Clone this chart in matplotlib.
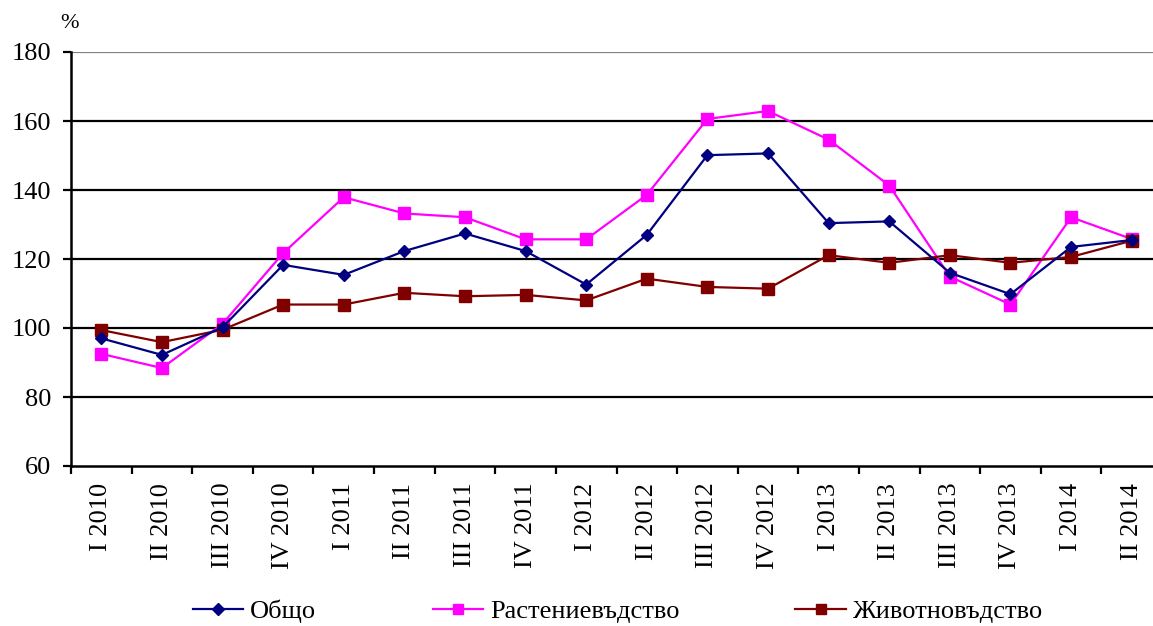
import matplotlib
matplotlib.use("Agg")
import matplotlib.pyplot as plt
import numpy as np

categories = ["I 2010", "II 2010", "III 2010", "IV 2010",
              "I 2011", "II 2011", "III 2011", "IV 2011",
              "I 2012", "II 2012", "III 2012", "IV 2012",
              "I 2013", "II 2013", "III 2013", "IV 2013",
              "I 2014", "II 2014"]
obshto = [97.0, 92.2, 100.2, 118.3, 115.4, 122.3, 127.4, 122.3,
          112.6, 127.0, 150.1, 150.6, 130.4, 130.9, 116.0, 109.8,
          123.5, 125.5]
rasteniev = [92.5, 88.4, 101.2, 121.7, 137.9, 133.2, 132.1, 125.7,
             125.7, 138.6, 160.6, 162.9, 154.6, 141.3, 114.9, 106.8,
             132.1, 125.8]
zhivotnov = [99.4, 95.9, 99.5, 106.8, 106.8, 110.2, 109.2, 109.6,
             108.0, 114.3, 111.9, 111.4, 121.1, 118.9, 121.1, 118.9,
             120.6, 125.3]
series_names = ["Общо", "Растениевъдство", "Животновъдство"]
y_ticks = [60, 80, 100, 120, 140, 160, 180]

plt.rcParams['font.family'] = ['Liberation Serif', 'DejaVu Serif']
FS = 19

fig = plt.figure(figsize=(11.53, 6.26), dpi=100)
W, H = 1153, 626
left, right, top, bottom = 71, 1162, 52, 466
ax = fig.add_axes([left / W, (H - bottom) / H, (right - left) / W, (bottom - top) / H])

x = np.arange(len(categories))
ax.plot(x, obshto, color="#000080", lw=1.6, marker="D", ms=6.5,
        mec="#000080", mfc="#000080", label=series_names[0], zorder=4)
ax.plot(x, rasteniev, color="#FF00FF", lw=1.6, marker="s", ms=8.5,
        mec="#FF00FF", mfc="#FF00FF", label=series_names[1], zorder=3)
ax.plot(x, zhivotnov, color="#800000", lw=1.6, marker="s", ms=8.5,
        mec="#800000", mfc="#800000", label=series_names[2], zorder=3)

ax.set_xlim(-0.5, len(categories) - 0.5)
ax.set_ylim(y_ticks[0], y_ticks[-1])
ax.set_yticks(y_ticks)
ax.set_yticklabels([str(v) for v in y_ticks], fontsize=FS)

# gridlines
for v in y_ticks[1:]:
    ax.axhline(v, color="#808080" if v == y_ticks[-1] else "black", lw=1.6, zorder=1)

ax.set_xticks(np.arange(len(categories) + 1) - 0.5)
ax.set_xticklabels([])
ax.set_xticks(x, minor=True)
ax.set_xticklabels(categories, minor=True, rotation=90, fontsize=FS)
ax.tick_params(axis="x", which="minor", length=0, pad=12)
ax.tick_params(axis="x", which="major", length=6, width=1.6, direction="out")
ax.tick_params(axis="y", length=6, width=1.6, direction="out", pad=8)

for s in ["top", "right"]:
    ax.spines[s].set_visible(False)
for s in ["left", "bottom"]:
    ax.spines[s].set_linewidth(1.8)
    ax.spines[s].set_color("black")

fig.text(60 / W, 1 - 23 / H, "%", fontsize=FS - 3, va="center", ha="left")

leg = fig.legend(loc="center", bbox_to_anchor=(618 / W, 1 - 611 / H), ncol=3,
                 frameon=False, fontsize=FS, handlelength=1.9, handletextpad=0.27,
                 columnspacing=4.4, borderaxespad=0)
for h in leg.legend_handles:
    h.set_markersize(6.5)

fig.savefig("out.png", dpi=100)
